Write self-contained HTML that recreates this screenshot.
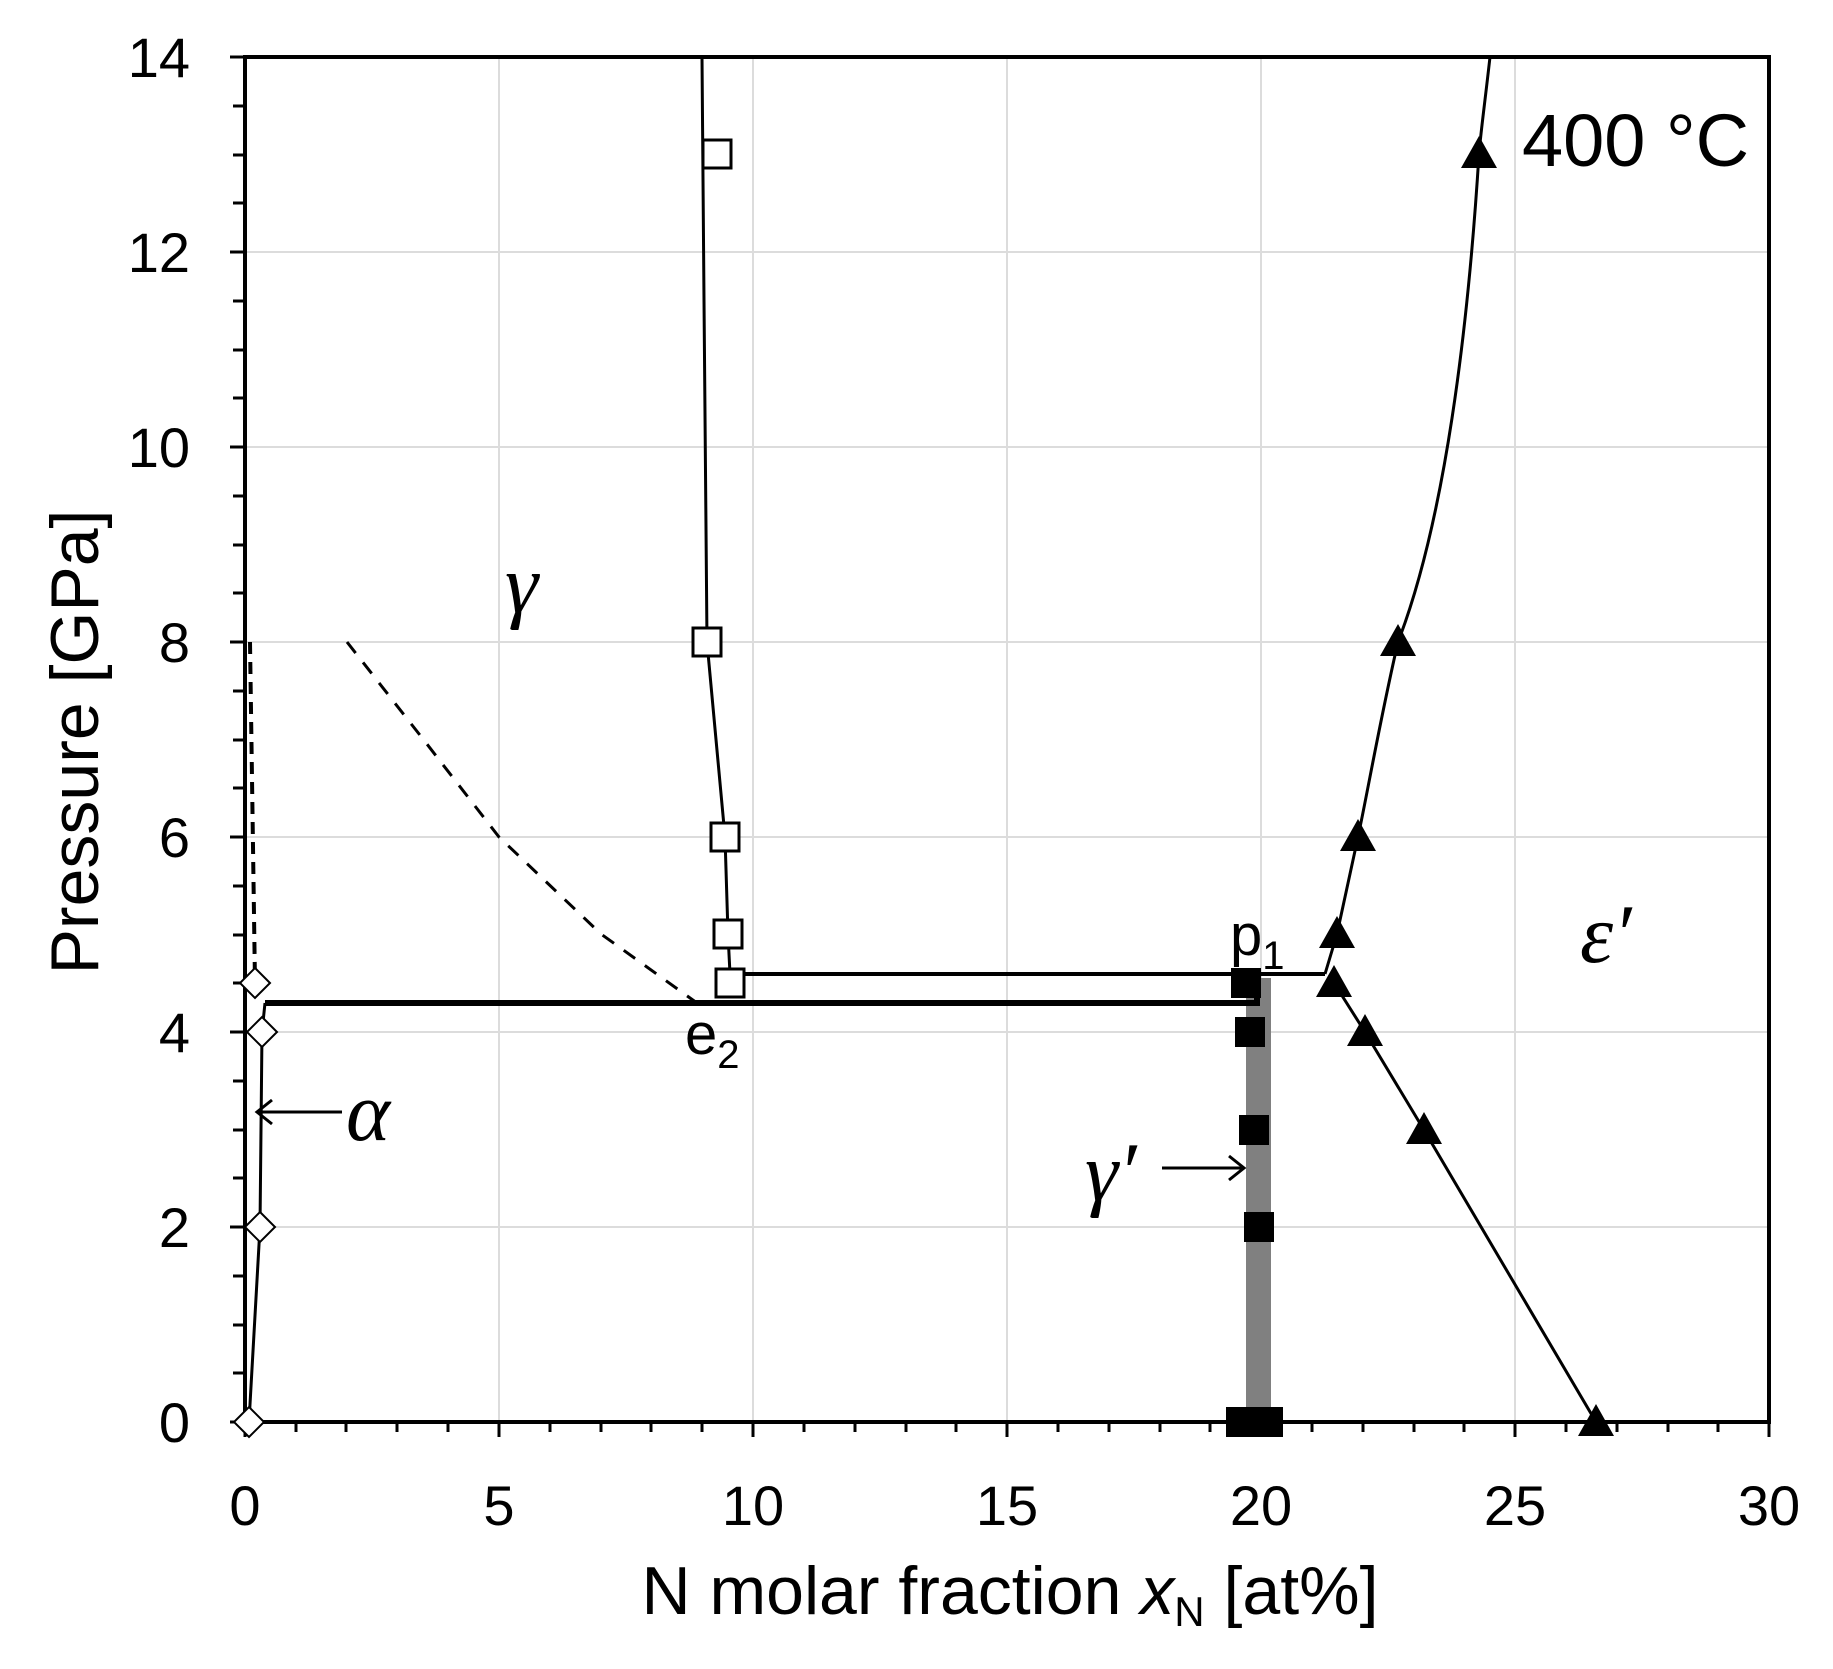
<!DOCTYPE html>
<html><head><style>body{margin:0;background:#fff}</style></head><body>
<svg width="1833" height="1664" viewBox="0 0 1833 1664" xmlns="http://www.w3.org/2000/svg" font-family="Liberation Sans, sans-serif">
<rect width="1833" height="1664" fill="#fff"/>
<g stroke="#dcdcdc" stroke-width="2">
<line x1="499" y1="57" x2="499" y2="1422"/><line x1="753" y1="57" x2="753" y2="1422"/>
<line x1="1007" y1="57" x2="1007" y2="1422"/><line x1="1261" y1="57" x2="1261" y2="1422"/>
<line x1="1515" y1="57" x2="1515" y2="1422"/>
<line x1="245" y1="1227" x2="1769" y2="1227"/><line x1="245" y1="1032" x2="1769" y2="1032"/>
<line x1="245" y1="837" x2="1769" y2="837"/><line x1="245" y1="642" x2="1769" y2="642"/>
<line x1="245" y1="447" x2="1769" y2="447"/><line x1="245" y1="252" x2="1769" y2="252"/>
</g>
<g stroke="#000" stroke-width="3">
<path d="M245,1422 v15 M296,1422 v10 M346,1422 v10 M397,1422 v10 M448,1422 v10 M499,1422 v15 M550,1422 v10 M601,1422 v10 M651,1422 v10 M702,1422 v10 M753,1422 v15 M804,1422 v10 M855,1422 v10 M906,1422 v10 M956,1422 v10 M1007,1422 v15 M1058,1422 v10 M1109,1422 v10 M1160,1422 v10 M1210,1422 v10 M1261,1422 v15 M1312,1422 v10 M1363,1422 v10 M1414,1422 v10 M1464,1422 v10 M1515,1422 v15 M1566,1422 v10 M1617,1422 v10 M1668,1422 v10 M1718,1422 v10 M1769,1422 v15"/>
<path d="M230,1422 h15 M233,1373 h12 M233,1325 h12 M233,1276 h12 M230,1227 h15 M233,1178 h12 M233,1130 h12 M233,1081 h12 M230,1032 h15 M233,983 h12 M233,935 h12 M233,886 h12 M230,837 h15 M233,788 h12 M233,740 h12 M233,691 h12 M230,642 h15 M233,593 h12 M233,545 h12 M233,496 h12 M230,447 h15 M233,398 h12 M233,350 h12 M233,301 h12 M230,252 h15 M233,203 h12 M233,155 h12 M233,106 h12 M230,57 h15"/>
</g>
<rect x="245" y="57" width="1524" height="1365" fill="none" stroke="#000" stroke-width="4"/>
<g font-size="56" fill="#000" text-anchor="end">
<text x="190" y="1442">0</text><text x="190" y="1247">2</text><text x="190" y="1052">4</text>
<text x="190" y="857">6</text><text x="190" y="662">8</text><text x="190" y="467">10</text>
<text x="190" y="272">12</text><text x="190" y="77">14</text>
</g>
<g font-size="56" fill="#000" text-anchor="middle">
<text x="245" y="1525">0</text><text x="499" y="1525">5</text><text x="753" y="1525">10</text>
<text x="1007" y="1525">15</text><text x="1261" y="1525">20</text><text x="1515" y="1525">25</text><text x="1769" y="1525">30</text>
</g>
<text x="1010" y="1614" font-size="68" text-anchor="middle">N molar fraction <tspan font-style="italic">x</tspan><tspan font-size="42" dy="12">N</tspan><tspan dy="-12"> [at%]</tspan></text>
<text transform="translate(98,742) rotate(-90)" font-size="68" text-anchor="middle">Pressure [GPa]</text>
<rect x="1246" y="978" width="25" height="444" fill="#808080"/>
<path d="M265,1003 H1257 V974" fill="none" stroke="#000" stroke-width="6"/>
<path d="M741,974 H1325" fill="none" stroke="#000" stroke-width="4"/>
<path d="M250,642 L255,983" fill="none" stroke="#000" stroke-width="4" stroke-dasharray="12,8"/>
<path d="M347,642 L423,739 L499,837 L601,934 L697,1003" fill="none" stroke="#000" stroke-width="3" stroke-dasharray="14,12"/>
<polyline points="249,1422 260,1227 262,1032 265,1003" fill="none" stroke="#000" stroke-width="3"/>
<polyline points="702,57 704,300 707,642 725,837 728,934 730,974" fill="none" stroke="#000" stroke-width="3"/>
<path d="M1490,57 C1484,110 1481,130 1479,154 C1468,330 1445,520 1398,642 C1380,720 1368,790 1358,837 L1337,934 L1325,974" fill="none" stroke="#000" stroke-width="3"/>
<polyline points="1334,983 1365,1032 1424,1130 1596,1422" fill="none" stroke="#000" stroke-width="3"/>
<g fill="#fff" stroke="#000" stroke-width="3">
<rect x="703" y="140" width="28" height="28"/><rect x="693" y="628" width="28" height="28"/>
<rect x="711" y="823" width="28" height="28"/><rect x="714" y="920" width="28" height="28"/>
<rect x="716" y="969" width="28" height="28"/>
</g>
<g fill="#fff" stroke="#000" stroke-width="2">
<path d="M249,1407 L264,1422 L249,1437 L234,1422Z"/>
<path d="M260,1212 L275,1227 L260,1242 L245,1227Z"/>
<path d="M262,1017 L277,1032 L262,1047 L247,1032Z"/>
<path d="M255,968 L270,983 L255,998 L240,983Z"/>
</g>
<g fill="#000">
<rect x="1231" y="968" width="30" height="30"/><rect x="1235" y="1017" width="30" height="30"/>
<rect x="1239" y="1115" width="30" height="30"/><rect x="1244" y="1212" width="30" height="30"/>
<rect x="1226" y="1407" width="30" height="30"/><rect x="1253" y="1407" width="30" height="30"/>
</g>
<g fill="#000">
<path d="M1334,965 l18,32 h-36z"/><path d="M1365,1014 l18,32 h-36z"/>
<path d="M1424,1112 l18,32 h-36z"/><path d="M1596,1404 l18,32 h-36z"/>
<path d="M1337,916 l18,32 h-36z"/><path d="M1358,819 l18,32 h-36z"/>
<path d="M1398,624 l18,32 h-36z"/><path d="M1479,136 l18,32 h-36z"/>
</g>
<g stroke="#000" stroke-width="3" fill="none">
<path d="M342,1112 H257 M272,1100 L257,1112 L272,1124"/>
<path d="M1162,1168 H1244 M1229,1156 L1244,1168 L1229,1180"/>
</g>
<g font-family="Liberation Serif, serif" font-size="84" fill="#000" font-style="italic">
<text x="505" y="612">γ</text>
<text x="346" y="1140">α</text>
<text x="1085" y="1200">γ′</text>
<text x="1580" y="962">ε′</text>
</g>
<text x="1522" y="166" font-size="74">400 °C</text>
<text x="1230" y="955" font-size="58">p<tspan font-size="40" dy="14">1</tspan></text>
<text x="685" y="1054" font-size="58">e<tspan font-size="40" dy="14">2</tspan></text>
</svg>
</body></html>
